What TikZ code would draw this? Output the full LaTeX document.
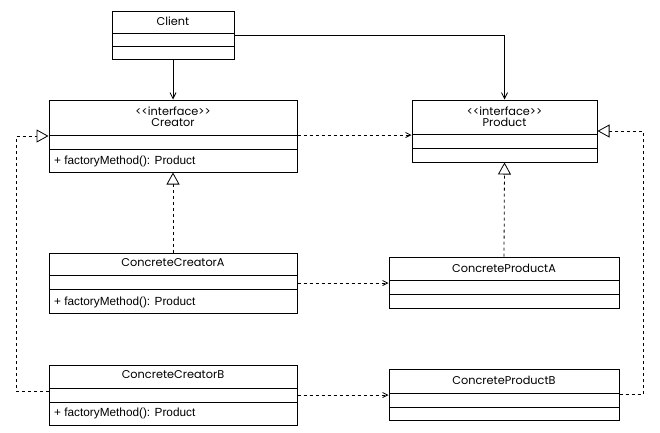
\documentclass[tikz,border=0pt]{standalone}
\usepackage{fontspec}
\setmainfont{Liberation Sans}
\newfontfamily\titlefont{Poppins}
\usetikzlibrary{arrows.meta,calc}
\begin{document}
\begin{tikzpicture}[x=1pt,y=-1pt,
  box/.style={draw,line width=1pt,inner sep=0pt,fill=white},
  ttl/.style={font=\titlefont\fontsize{11.3}{13}\selectfont,inner sep=0pt,align=center},
  mth/.style={font=\fontsize{11.8}{13}\selectfont,inner sep=0pt,anchor=west},
  dep/.style={line width=0.8pt,-{Straight Barb[length=6pt,width=6pt]}},
  ddep/.style={line width=0.8pt,dash pattern=on 3pt off 3pt,-{Straight Barb[length=5pt,width=5pt]}},
  real/.style={line width=0.8pt,dash pattern=on 3pt off 3pt,-{Triangle[open,length=12pt,width=13pt,fill=white]}},
  divl/.style={line width=1pt}]
\useasboundingbox (0,0) rectangle (660,432);
\fill[white] (0,0) rectangle (660,432);
% Client
\node[box,minimum width=122pt,minimum height=48pt] (client) at (173,35) {};
\node[ttl] (clientT) at (173,21) {Client};
\draw[divl] (112,33) -- (234,33) (112,46) -- (234,46);
% Creator
\node[box,minimum width=248pt,minimum height=72pt] (creator) at (173,136) {};
\node[ttl] (creatorT) at (173,117) {<{}<interface>{}>\\[-2pt]Creator};
\draw[divl] (49,135) -- (297,135) (49,149) -- (297,149);
\node[mth] (creatorM) at (54,161) {+ factoryMethod(): Product};
% Product
\node[box,minimum width=185pt,minimum height=62pt] (product) at (504.5,131) {};
\node[ttl] (productT) at (504.5,117) {<{}<interface>{}>\\[-2pt]Product};
\draw[divl] (412,134) -- (597,134) (412,148) -- (597,148);
% ConcreteCreatorA
\node[box,minimum width=248pt,minimum height=60pt] (cca) at (173,283) {};
\node[ttl] (ccaT) at (173,263) {ConcreteCreatorA};
\draw[divl] (49,275) -- (297,275) (49,289) -- (297,289);
\node[mth] (ccaM) at (54,302) {+ factoryMethod(): Product};
% ConcreteCreatorB
\node[box,minimum width=248pt,minimum height=60pt] (ccb) at (173,395) {};
\node[ttl] (ccbT) at (173,375) {ConcreteCreatorB};
\draw[divl] (49,388) -- (297,388) (49,402) -- (297,402);
\node[mth] (ccbM) at (54,413) {+ factoryMethod(): Product};
% ConcreteProductA
\node[box,minimum width=230pt,minimum height=51pt] (cpa) at (504,282.5) {};
\node[ttl] (cpaT) at (504,268) {ConcreteProductA};
\draw[divl] (389,280) -- (619,280) (389,294) -- (619,294);
% ConcreteProductB
\node[box,minimum width=230pt,minimum height=51pt] (cpb) at (504,394.5) {};
\node[ttl] (cpbT) at (504,380) {ConcreteProductB};
\draw[divl] (389,393) -- (619,393) (389,407) -- (619,407);
% connectors
\coordinate (leftbend) at (16,0);
\coordinate (rightbend) at (643,0);
\draw[dep] (client.south) -- (creator.north);
\draw[dep] (client.east) -| (product.north);
\draw[ddep] ([yshift=1pt]creator.east) -- ([yshift=1pt]creator.east -| product.west);
\draw[ddep] (cca.east) -- (cca.east -| cpa.west);
\draw[ddep] (ccb.east) -- (ccb.east -| cpb.west);
\draw[real] (cca.north) -- (creator.south);
\draw[real] (cpa.north) -- (product.south);
\draw[real] ([yshift=4pt]ccb.west) -- ([yshift=4pt]ccb.west -| leftbend) -- (leftbend |- creator.west) -- (creator.west);
\draw[real] (cpb.east) -- (cpb.east -| rightbend) -- (rightbend |- product.east) -- (product.east);
\end{tikzpicture}
\end{document}
